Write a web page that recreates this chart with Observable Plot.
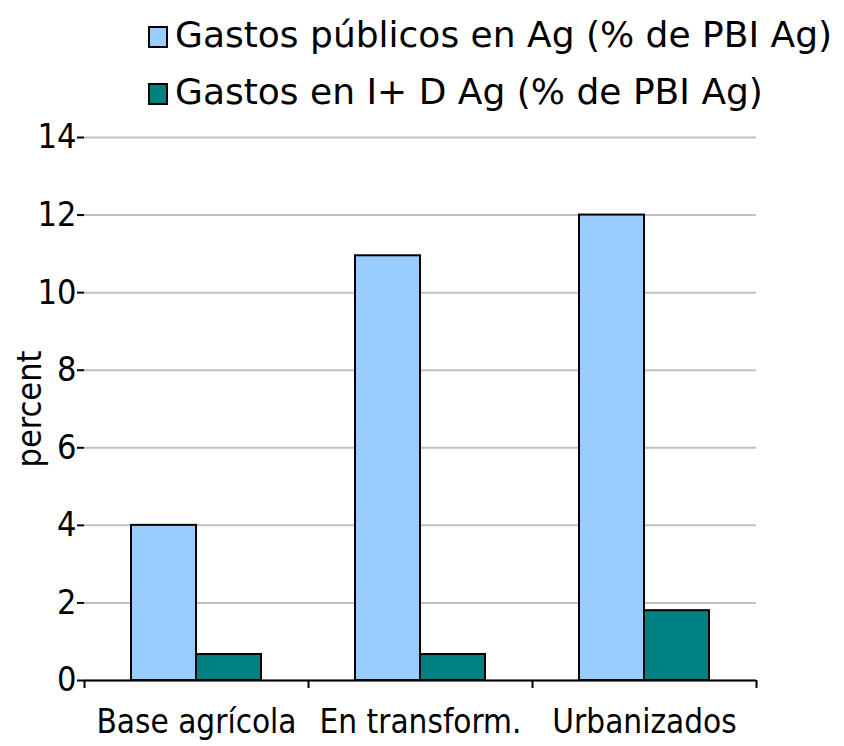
<!DOCTYPE html>
<html>
<head>
<meta charset="utf-8">
<script src="https://cdn.jsdelivr.net/npm/d3@7"></script>
<script src="https://cdn.jsdelivr.net/npm/@observablehq/plot@0.6"></script>
<style>
  body { margin: 0; background: #fff; font-family: "DejaVu Sans", sans-serif; }
  #legend { height: 120px; box-sizing: border-box; padding-top: 6px; padding-left: 148px; }
  .row { display: flex; align-items: center; height: 57px; font-size: 36px; color: #000; white-space: nowrap; }
  .sw { width: 16px; height: 18px; border: 2px solid #000; margin-right: 7px; margin-top: 4px; }
</style>
</head>
<body>
<div id="legend"></div>
<div id="chart"></div>
<script>
const categories = ["Base agrícola", "En transform.", "Urbanizados"];
const seriesNames = ["Gastos públicos en Ag (% de PBI Ag)", "Gastos en I+ D Ag (% de PBI Ag)"];
const publicSpend = [4.0, 10.95, 12.0];
const rdSpend = [0.67, 0.67, 1.8];
const yTicks = [0, 2, 4, 6, 8, 10, 12, 14];
const colors = ["#99CCFF", "#008080"];

const W = 844, ML = 84, MR = 88;
const bw = (W - ML - MR) / categories.length;
const barW = 65;
const outer = (bw - 2 * barW) / 2;

const rows = categories.map((c, i) => ({cat: c, pub: publicSpend[i], rd: rdSpend[i]}));

// legend
const leg = document.getElementById("legend");
seriesNames.forEach((s, i) => {
  const r = document.createElement("div"); r.className = "row";
  const sw = document.createElement("div"); sw.className = "sw"; sw.style.background = colors[i];
  const t = document.createElement("span"); t.textContent = s;
  r.append(sw, t); leg.append(r);
});

const chart = Plot.plot({
  width: W, height: 626,
  marginLeft: ML, marginRight: MR, marginTop: 17, marginBottom: 66,
  style: {fontFamily: '"DejaVu Sans", sans-serif', fontSize: "32px", fontStretch: "condensed", color: "#000", background: "#fff", overflow: "visible"},
  x: {domain: categories, padding: 0},
  y: {domain: [0, 14]},
  marks: [
    Plot.gridY(yTicks, {stroke: "#c0c0c0", strokeOpacity: 1, strokeWidth: 2}),
    Plot.barY(rows, {x: "cat", y: "pub", fill: colors[0], stroke: "#000", strokeWidth: 2, insetLeft: outer, insetRight: bw - outer - barW}),
    Plot.barY(rows, {x: "cat", y: "rd", fill: colors[1], stroke: "#000", strokeWidth: 2, insetLeft: outer + barW, insetRight: outer}),
    Plot.ruleY([0], {stroke: "#000", strokeWidth: 2}),
    Plot.ruleX(categories, {x: d => d, dx: -bw / 2, y1: 0, y2: 0, insetBottom: -8, stroke: "#000", strokeWidth: 2}),
    Plot.ruleX(categories.slice(-1), {x: d => d, dx: bw / 2, y1: 0, y2: 0, insetBottom: -8, stroke: "#000", strokeWidth: 2}),
    Plot.axisX({tickSize: 0, tickPadding: 29, label: null, fontSize: 33}),
    Plot.axisY({ticks: yTicks, tickSize: 7, tickPadding: 1, strokeWidth: 2, label: "percent", labelAnchor: "center", labelArrow: "none", labelOffset: 68, fontSize: 34}),
    Plot.ruleX([0], {frameAnchor: "left", stroke: "#000", strokeWidth: 2})
  ]
});
document.getElementById("chart").append(chart);
</script>
</body>
</html>
